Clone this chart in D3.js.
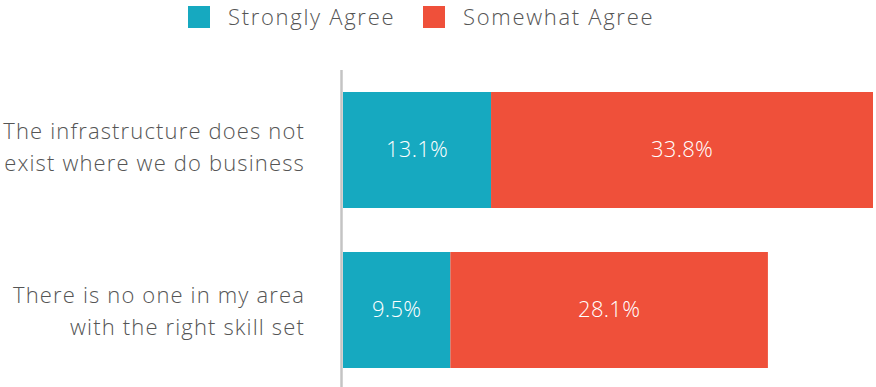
<!DOCTYPE html>
<html>
<head>
<meta charset="utf-8">
<script src="https://cdn.jsdelivr.net/npm/d3@7"></script>
<style>
  html, body { margin: 0; padding: 0; background: #fff; }
  svg { display: block; font-family: "Open Sans", "Lato", sans-serif; font-weight: 300; }
</style>
</head>
<body>
<svg id="chart" width="876" height="387"></svg>
<script>
// Survey responses: share of respondents agreeing with each barrier
const categories = [
  ["The infrastructure does not", "exist where we do business"],
  ["There is no one in my area", "with the right skill set"]
];
const seriesNames = ["Strongly Agree", "Somewhat Agree"];
const stronglyAgree = [13.1, 9.5];
const somewhatAgree = [33.8, 28.1];
const colors = ["#16a9c0", "#ef503a"];

const svg = d3.select("#chart");
const width = 876, height = 387;

const rows = categories.map((c, i) => ({
  key: i,
  lines: c,
  values: [stronglyAgree[i], somewhatAgree[i]]
}));

const x = d3.scaleLinear()
  .domain([0, d3.max(rows, r => d3.sum(r.values))])
  .range([343, 873]);

const y = d3.scaleBand()
  .domain(rows.map(r => r.key))
  .range([92, 368])
  .paddingInner(0.275)
  .paddingOuter(0);

// Stacked segments with centred value labels
const g = svg.append("g");
rows.forEach(r => {
  let acc = 0;
  r.values.forEach((v, j) => {
    const x0 = acc, x1 = acc + v;
    acc = x1;
    g.append("rect")
      .attr("x", x(x0))
      .attr("y", y(r.key))
      .attr("width", x(x1) - x(x0))
      .attr("height", y.bandwidth())
      .attr("fill", colors[j]);
    g.append("text")
      .attr("x", (x(x0) + x(x1)) / 2)
      .attr("y", y(r.key) + y.bandwidth() / 2 + 7)
      .attr("text-anchor", "middle")
      .attr("fill", "#fff")
      .style("font-size", "22px")
      .style("letter-spacing", "0.3px")
      .text(v.toFixed(1) + "%");
  });
});

// Category axis line
svg.append("line")
  .attr("x1", 341.5).attr("x2", 341.5)
  .attr("y1", 70).attr("y2", height)
  .attr("stroke", "#c4c4c4")
  .attr("stroke-width", 2.5);

// Category labels (two lines, right-aligned)
rows.forEach((r, i) => {
  const cy = y(r.key) + y.bandwidth() / 2;
  r.lines.forEach((line, k) => {
    svg.append("text")
      .attr("x", 305)
      .attr("y", cy - 11 + i * 4 + k * 32)
      .attr("text-anchor", "end")
      .attr("fill", "#555")
      .style("font-size", "22px")
      .style("letter-spacing", "1.15px")
      .text(line);
  });
});

// Legend
const legend = svg.append("g");
const legendX = [188, 423];
seriesNames.forEach((name, j) => {
  legend.append("rect")
    .attr("x", legendX[j]).attr("y", 6)
    .attr("width", 22).attr("height", 22)
    .attr("fill", colors[j]);
  legend.append("text")
    .attr("x", legendX[j] + 40)
    .attr("y", 25)
    .attr("fill", "#555")
    .style("font-size", "22px")
    .style("letter-spacing", "1.7px")
    .text(name);
});
</script>
</body>
</html>
